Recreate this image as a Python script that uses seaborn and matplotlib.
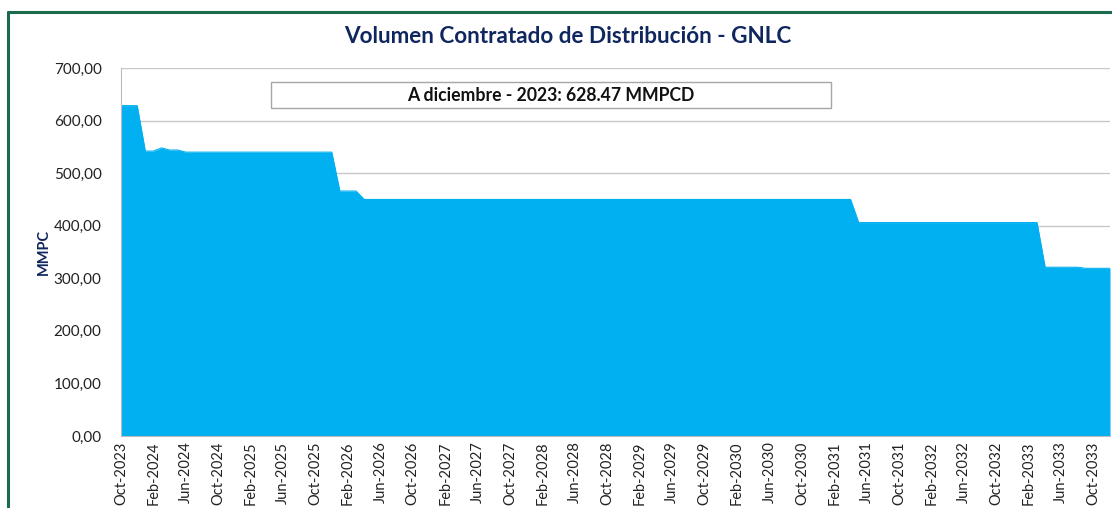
import numpy as np
import pandas as pd
import seaborn as sns
import matplotlib.pyplot as plt
from matplotlib.patches import Rectangle
from matplotlib.lines import Line2D
from matplotlib.ticker import FuncFormatter

# monthly contracted volume, Oct-2023 .. Dec-2033
months = pd.date_range('2023-10-01', '2033-12-01', freq='MS')
volumen = ([628.47] * 3
           + [542, 542, 548, 544, 544]
           + [540] * 19
           + [466] * 3
           + [450] * 61
           + [406] * 23
           + [321] * 5
           + [319] * 4)

titulo = 'Volumen Contratado de Distribución - GNLC'
nota = 'A diciembre - 2023: 628.47 MMPCD'
eje_y = 'MMPC'
y_ticks = [0, 100, 200, 300, 400, 500, 600, 700]

df = pd.DataFrame({'mes': months, 'volumen': volumen})
df['pos'] = np.arange(len(df))
df['etiqueta'] = df['mes'].dt.strftime('%b-%Y')

sns.set_style('white')
plt.rcParams['font.family'] = ['Lato', 'DejaVu Sans']

azul = '#00B0F0'
navy = '#10265E'

fig = plt.figure(figsize=(11.12, 5.08), dpi=100)
ax = fig.add_axes([0.1088, 0.1417, 0.8894, 0.7244])

sns.lineplot(data=df, x='pos', y='volumen', ax=ax, color=azul, linewidth=0.8)
ax.fill_between(df['pos'], df['volumen'], 0, color=azul, linewidth=0)

ax.set_xlim(0, len(df) - 1)
ax.set_ylim(0, 700)
ax.set_yticks(y_ticks)
ax.yaxis.set_major_formatter(FuncFormatter(lambda v, p: f'{v:.2f}'.replace('.', ',')))
ticks = df['pos'][::4]
ax.set_xticks(ticks)
ax.set_xticklabels(df['etiqueta'][::4], rotation=90, fontsize=10.5, color='#222222')
ax.tick_params(axis='y', labelsize=11, colors='#222222', length=0, pad=14)
ax.tick_params(axis='x', length=0, pad=4)

ax.grid(axis='y', color='#C8C8C8', linewidth=1)
ax.set_axisbelow(True)
for s in ['top', 'right']:
    ax.spines[s].set_visible(False)
ax.spines['left'].set_color('#BBBBBB')
ax.spines['bottom'].set_color('#BBBBBB')

ax.set_xlabel('')
ax.set_ylabel(eje_y, fontsize=10.5, fontweight='bold', color=navy, labelpad=2)

# annotation box
ax.add_patch(Rectangle((0.1517, 0.891), 0.566, 0.071, transform=ax.transAxes,
                       facecolor='white', edgecolor='#A6A6A6', linewidth=1, zorder=5))
ax.text(0.4345, 0.9265, nota, transform=ax.transAxes, ha='center', va='center',
        fontsize=12.7, fontweight='bold', color='#111111', zorder=6)

fig.text(0.511, 0.928, titulo, ha='center', va='center', fontsize=16.2,
         fontweight='bold', color=navy)

# green frame like the excel chart border
verde = '#1A6B4C'
fig.add_artist(Line2D([0.0075, 0.0075], [0.0, 0.977], color=verde, linewidth=2.2))
fig.add_artist(Line2D([0.0075, 1.0], [0.977, 0.977], color=verde, linewidth=2.2))

fig.savefig('out.png', dpi=100)
